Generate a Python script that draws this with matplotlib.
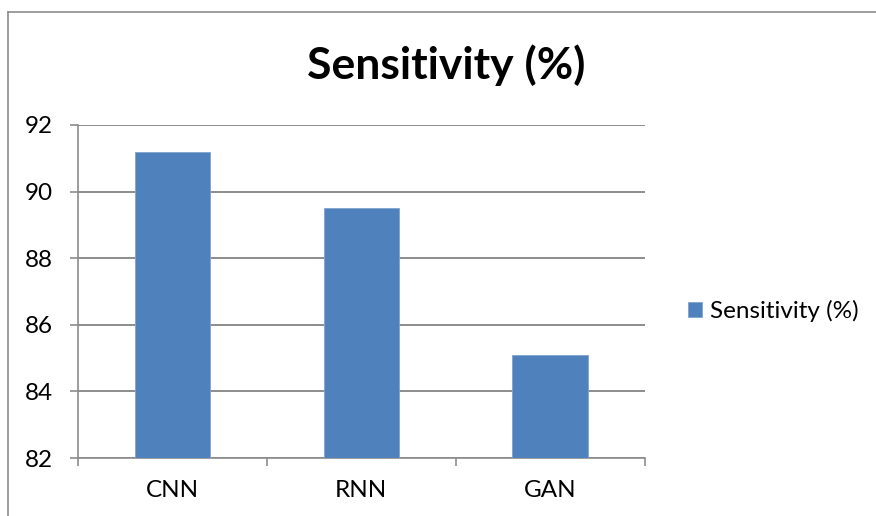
import matplotlib.pyplot as plt
from matplotlib.lines import Line2D

models = ['CNN', 'RNN', 'GAN']
sensitivity = [91.2, 89.5, 85.1]
yticks = [82, 84, 86, 88, 90, 92]
series_name = 'Sensitivity (%)'

plt.rcParams['font.family'] = ['Lato', 'DejaVu Sans']

bar_color = '#4F81BD'
grid_color = '#8C8C8C'

fig = plt.figure(figsize=(8.76, 5.16), dpi=100)
ax = fig.add_axes([0.089, 0.1124, 0.647, 0.6454])

x = list(range(len(models)))
ax.bar(x, sensitivity, width=0.4, color=bar_color, label=series_name, zorder=3,
       edgecolor='#7FA3D1', linewidth=0.6)

ax.set_xlim(-0.5, len(models) - 0.5)
ax.set_ylim(82, 92)
ax.set_yticks(yticks)
ax.set_yticklabels([str(v) for v in yticks])
ax.yaxis.grid(True, color=grid_color, linewidth=1.4, zorder=0)

ax.set_xticks(x)
ax.set_xticklabels(models)
ax.set_xticks([i - 0.5 for i in range(len(models) + 1)], minor=True)
ax.tick_params(axis='x', which='major', length=0, pad=16, labelsize=17.5)
ax.tick_params(axis='x', which='minor', length=6, width=1.2, color=grid_color, direction='out')
ax.tick_params(axis='y', length=6, width=1.2, color=grid_color, pad=12, labelsize=17.5)

for s in ['top', 'right']:
    ax.spines[s].set_visible(False)
for s in ['left', 'bottom']:
    ax.spines[s].set_color(grid_color)
    ax.spines[s].set_linewidth(1.2)

fig.text(0.509, 0.874, series_name, ha='center', va='center', fontsize=32, fontweight='bold')

leg = fig.legend(loc='center left', bbox_to_anchor=(0.785, 0.397), frameon=False,
                 fontsize=17.5, handlelength=0.6, handleheight=0.6, handletextpad=0.3,
                 borderpad=0, borderaxespad=0)

# outer chart frame (left and top edges visible)
fig.add_artist(Line2D([0.0097, 0.0097], [0.0, 0.977], color='#8C8C8C', linewidth=1.2))
fig.add_artist(Line2D([0.0097, 1.0], [0.977, 0.977], color='#8C8C8C', linewidth=1.2))

fig.savefig('out.png', dpi=100)
